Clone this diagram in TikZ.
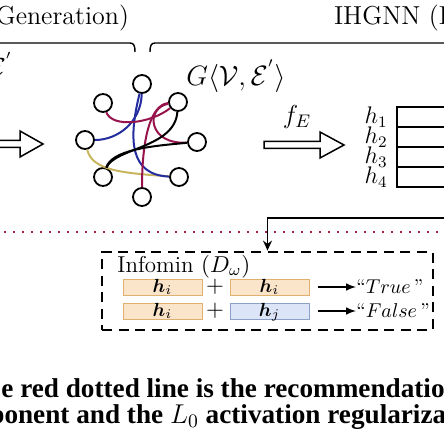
\RequirePackage{fix-cm}
\documentclass[tikz,border=0pt]{standalone}
\usepackage{amsmath}
\usepackage{fontspec}
\newfontfamily\capfont{Liberation Serif}
\usepackage[x11names]{xcolor}
\usepackage{tikz}
\usetikzlibrary{positioning, arrows.meta, calc}

\definecolor{edgeblue}{RGB}{35,45,160}
\definecolor{edgered}{RGB}{150,20,75}
\definecolor{edgeolive}{RGB}{200,182,95}
\definecolor{dotred}{RGB}{165,35,60}
\definecolor{hifill}{RGB}{251,229,202}
\definecolor{hidraw}{RGB}{222,178,110}
\definecolor{hjfill}{RGB}{220,229,247}
\definecolor{hjdraw}{RGB}{140,160,200}

\tikzset{
  gnode/.style={circle, draw, line width=0.9pt, fill=white, minimum size=9pt, inner sep=0pt},
  gedge/.style={line width=1pt},
  fatarrow/.style={line width=0.75pt, line join=miter},
  hrow/.style={draw, line width=0.9pt, minimum width=71pt, minimum height=10pt, inner sep=0pt},
  hibox/.style={draw=hidraw, fill=hifill, line width=0.5pt, minimum width=39.5pt, minimum height=8pt, inner sep=0pt, text height=6.5pt, text depth=1pt, font=\fontsize{9.5}{11}\selectfont},
  hjbox/.style={hibox, draw=hjdraw, fill=hjfill},
  dashbox/.style={draw, line width=1.4pt, dash pattern=on 5pt off 3.3pt, minimum width=165.5pt, minimum height=39pt, inner sep=0pt},
  dotline/.style={dotred, line width=1pt, dash pattern=on 1pt off 3.5pt},
  bigtxt/.style={font=\fontsize{13}{15}\selectfont},
  midtxt/.style={font=\fontsize{11.5}{13}\selectfont},
  outtxt/.style={font=\fontsize{10}{12}\selectfont, anchor=west, inner sep=0pt},
  captxt/.style={font=\capfont\bfseries\fontsize{13.6}{16}\selectfont, inner sep=0pt},
}

\begin{document}
\begin{tikzpicture}[x=0.5pt,y=0.5pt,yscale=-1,xscale=1]
        \useasboundingbox (0,0) rectangle (444,443);
        \clip (0,0) rectangle (444,443);

        %Braces
        \draw[line width=0.7pt] (-5,43) -- (130,43) .. controls (134,43) and (135,46) .. (135,52);
        \draw[line width=0.7pt] (150,52) .. controls (150,46) and (151,43) .. (155,43) -- (450,43);
        \node[bigtxt, anchor=base east] (gen) at (136,25) {Generation)};
        \node[bigtxt, anchor=base west] (ihgnn) at (327,25) {IHGNN (I};
        \node[bigtxt, anchor=east, inner sep=0pt] (eprime) at (13,64) {$\mathcal{E}^{'}$};

        %Left arrow
        \draw[fatarrow] (-20,140.5) -- (20,140.5) -- (20,131) -- (43,144) -- (20,157) -- (20,147.5) -- (-20,147.5);

        %Graph nodes
        \foreach \n/\x/\y in {t/142/84, ul/103/103, ur/178/102, l/85/140, r/197/142, ll/103/177, lr/179/177, b/142/197}
            \node[gnode] (v\n) at (\x,\y) {};

        %Graph edges
        \draw[gedge, edgeolive] (vl) .. controls (92,170) and (120,173) .. (vlr);
        \draw[gedge, edgeblue] (vt) .. controls (141,122) and (118,140) .. (vl);
        \draw[gedge, edgeblue] (vt) .. controls (128,140) and (130,175) .. (vlr);
        \draw[gedge, edgered] (vul) .. controls (112,128) and (150,124) .. (vur);
        \draw[gedge, edgered] (vur) .. controls (150,105) and (142,140) .. (vb);
        \draw[gedge, edgered] (vur) .. controls (145,108) and (148,145) .. (vr);
        \draw[gedge] (vur) .. controls (175,148) and (114,148) .. (vll);
        \draw[gedge] (vr) .. controls (150,146) and (112,150) .. (vll);

        \node[font=\fontsize{14}{16}\selectfont] (glabel) at (236,76) {$G\langle\mathcal{V},\mathcal{E}^{'}\rangle$};

        %Encoder arrow
        \draw[fatarrow] (264,141.5) -- (320,141.5) -- (320,132) -- (344,145) -- (320,158) -- (320,148.5) -- (264,148.5) -- cycle;
        \node[bigtxt] (fe) at (297,117) {$f_E$};

        %Embedding rows
        \foreach \i/\y in {1/117, 2/137, 3/157, 4/177}{
            \node[hrow] (row\i) at (468,\y) {};
            \node[font=\fontsize{12}{14}\selectfont, inner sep=0pt, left=4pt of row\i] (hlab\i) {$h_\i$};
        }

        %Recommendation line
        \coordinate (dotL) at (-5,232);
        \coordinate (dotR) at (450,232);
        \draw[dotline] (dotL) -- (dotR);

        %Infomin
        \node[dashbox] (infobox) at (267.5,291) {};
        \coordinate (feed) at (450,218);
        \draw[line width=0.65pt, -{Stealth[length=5pt,width=4.5pt]}] (feed) -| (infobox.north);
        \node[midtxt, anchor=base west, inner sep=0pt] (infomin) at (117,272) {Infomin $(D_\omega)$};

        \node[hibox] (hi1) at (162.5,287) {$\boldsymbol{h}_i$};
        \node[midtxt] (plus1) at (215,287) {$+$};
        \node[hibox] (hi2) at (269.5,287) {$\boldsymbol{h}_i$};
        \node[outtxt] (true) at (356,287) {``$True$\,''};
        \draw[line width=0.7pt, -latex, shorten <=4pt] (hi2.east) -- (true.west);

        \node[hibox] (hi3) at (162.5,311) {$\boldsymbol{h}_i$};
        \node[midtxt] (plus2) at (215,311) {$+$};
        \node[hjbox] (hj4) at (269.5,311) {$\boldsymbol{h}_j$};
        \node[outtxt] (false) at (356,311) {``$False$\,''};
        \draw[line width=0.7pt, -latex, shorten <=4pt] (hj4.east) -- (false.west);

        %Caption
        \node[captxt, anchor=base west] (cap1) at (1,397) {e red dotted line is the recommendatio};
        \node[captxt, anchor=base west] (cap2) at (-11,423) {ponent and the $L_0$ activation regulariza};

    \end{tikzpicture}
\end{document}
